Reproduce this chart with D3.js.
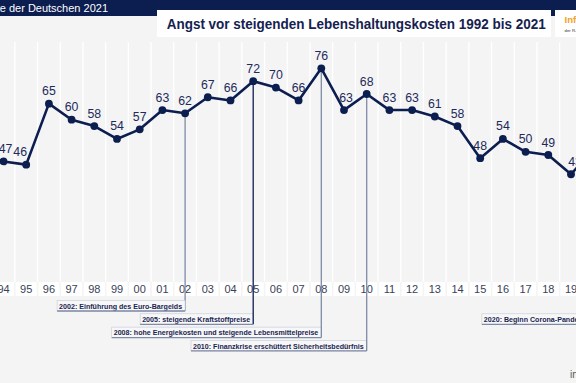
<!DOCTYPE html>
<html><head><meta charset="utf-8">
<script src="https://cdn.jsdelivr.net/npm/d3@7"></script>
<style>
html,body{margin:0;padding:0;background:#f4f4f4;overflow:hidden}
svg{display:block;font-family:"Liberation Sans",Arial,sans-serif}
</style></head>
<body><svg id="c" width="576" height="383"></svg>
<script>
// ---- data ----
const years = d3.range(1992, 2022);
const values = [50, 48, 47, 46, 65, 60, 58, 54, 57, 63, 62, 67, 66, 72, 70, 66, 76, 63, 68, 63, 63, 61, 58, 48, 54, 50, 49, 43, 51, 50];
const tickLabels = years.map(y => String(y).slice(2));
const annoYears = [2002, 2005, 2008, 2010, 2020];
const annoTexts = [
  "2002: Einführung des Euro-Bargelds",
  "2005: steigende Kraftstoffpreise",
  "2008: hohe Energiekosten und steigende Lebensmittelpreise",
  "2010: Finanzkrise erschüttert Sicherheitsbedürfnis",
  "2020: Beginn Corona-Pandemie"
];
const title = "Angst vor steigenden Lebenshaltungskosten 1992 bis 2021";
const header = "Die größten Ängste der Deutschen 2021";

// ---- layout ----
const navy = "#0c1d50";
const svg = d3.select("#c");
const x = d3.scalePoint().domain(years).range([-41.9, 616.4]);
const step = x.step();
const y = d3.scaleLinear().domain([40, 80]).range([183.9, 55.5]);

svg.append("rect").attr("width", 576).attr("height", 383).attr("fill", "#f4f4f4");

// vertical separators
const gridTop = 42, rowTop = 282, rowBot = 296;
svg.append("g").selectAll("line").data(years).join("line")
  .attr("x1", d => x(d) + step / 2).attr("x2", d => x(d) + step / 2)
  .attr("y1", gridTop).attr("y2", rowTop)
  .attr("stroke", "#ffffff").attr("stroke-width", 1.3);

// tick label row
svg.append("g").selectAll("rect").data(years).join("rect")
  .attr("x", d => x(d) - step / 2 + 0.8).attr("width", step - 1.6)
  .attr("y", rowTop).attr("height", rowBot - rowTop)
  .attr("fill", "#ffffff");
svg.append("g").selectAll("text").data(years).join("text")
  .attr("x", d => x(d)).attr("y", 293)
  .attr("text-anchor", "middle").attr("font-size", 11).attr("fill", "#3a4258")
  .text((d, i) => tickLabels[i]);

// annotations
const annoRow = {2002: 0, 2005: 1, 2008: 2, 2010: 3, 2020: 1};
const annoColor = {2002: "#7e8aa6", 2005: navy, 2008: "#7e8aa6", 2010: "#7e8aa6", 2020: "#7e8aa6"};
const rowY = r => 300.5 + r * 13.3;
const ag = svg.append("g");
annoYears.forEach((yr, i) => {
  const v = values[years.indexOf(yr)];
  const lx = x(yr);
  const top = rowY(annoRow[yr]);
  const bot = top + 10.5;
  ag.append("line").attr("x1", lx).attr("x2", lx).attr("y1", y(v)).attr("y2", bot)
    .attr("stroke", annoColor[yr]).attr("stroke-width", 1.3);
  const t = ag.append("text").attr("x", lx - 3).attr("y", top + 8.2)
    .attr("text-anchor", "end").attr("font-size", 7.1).attr("font-weight", "bold")
    .attr("fill", "#1a2550").text(annoTexts[i]);
  const w = t.node().getComputedTextLength();
  ag.insert("rect", "text").attr("x", lx - w - 5).attr("y", top).attr("width", w + 5).attr("height", bot - top)
    .attr("fill", "#f7f7f8").attr("stroke", "#c4c9d6").attr("stroke-width", 0.6);
  ag.append("line").attr("x1", lx - w - 5).attr("x2", lx).attr("y1", bot).attr("y2", bot)
    .attr("stroke", "#7e8aa6").attr("stroke-width", 1.3);
});

// line + dots
const line = d3.line().x((d, i) => x(years[i])).y(d => y(d));
svg.append("path").datum(values).attr("d", line)
  .attr("fill", "none").attr("stroke", navy).attr("stroke-width", 2.6).attr("stroke-linejoin", "round");
svg.append("g").selectAll("circle").data(values).join("circle")
  .attr("cx", (d, i) => x(years[i])).attr("cy", d => y(d)).attr("r", 3.9).attr("fill", navy);

// value labels
const nudge = {1994: 2, 1995: -6, 2009: 2, 2019: 4};
svg.append("g").selectAll("text").data(values).join("text")
  .attr("x", (d, i) => x(years[i]) + (nudge[years[i]] || 0))
  .attr("y", d => y(d) - 8.5)
  .attr("text-anchor", "middle").attr("font-size", 12.3).attr("fill", "#1d2a5a")
  .text(d => d);

// header bar
svg.append("rect").attr("x", 0).attr("y", 0).attr("width", 576).attr("height", 16).attr("fill", navy);
svg.append("text").attr("x", 108).attr("y", 12).attr("text-anchor", "end")
  .attr("font-size", 11).attr("fill", "#ffffff").text(header);
svg.append("rect").attr("x", 157).attr("y", 10).attr("width", 394).attr("height", 27).attr("fill", "#ffffff");
svg.append("text").attr("x", 166.7).attr("y", 29.3).attr("font-size", 15).attr("font-weight", "bold")
  .attr("fill", "#15214f").attr("textLength", 379).attr("lengthAdjust", "spacingAndGlyphs").text(title);
svg.append("rect").attr("x", 555).attr("y", 10).attr("width", 21).attr("height", 27).attr("fill", "#ffffff");
svg.append("text").attr("x", 564.5).attr("y", 22.8).attr("font-size", 9.6).attr("font-weight", "bold")
  .attr("fill", "#f0a428").text("Infocenter");
svg.append("text").attr("x", 564.5).attr("y", 31.5).attr("font-size", 4.3)
  .attr("fill", "#333").text("der R+V Versicherung");

// source
svg.append("text").attr("x", 570).attr("y", 378).attr("font-size", 10).attr("fill", "#555")
  .text("infocenter.ruv.de");
</script></body></html>
